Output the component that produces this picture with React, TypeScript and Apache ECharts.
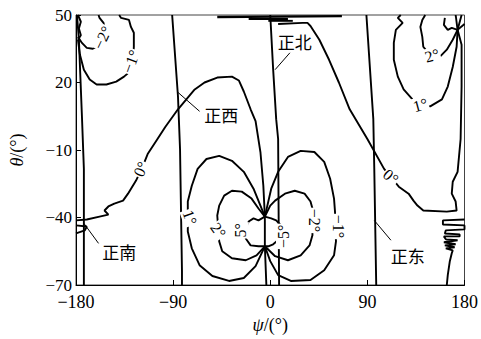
import React, { useEffect, useRef } from "react";
import * as echarts from "echarts";

// axis ranges (degrees)
const psiMin = -180, psiMax = 180, psiStep = 90;
const thetaMin = -70, thetaMax = 50, thetaStep = 30;

// heading lines [psi, theta]
const lineSouth = [[-179.1, 50], [-177.3, 39], [-174.5, 5], [-172.7, -18.4], [-172.7, -70]];
const lineWest = [[-90.9, 50], [-85.5, 13.8], [-83.6, -9.6], [-81.8, -63.8], [-81.8, -70]];
const lineNorth = [[0, 50], [2.7, 25.7], [5.5, 3.7], [7.3, -5.1], [8.2, -70]];
const lineEast = [[89.1, 50], [95.5, 3.7], [96.4, -18.4], [98.2, -70]];

// 0 deg contours
const zeroLeft = [[-180, -41.3], [-170, -40.9], [-158.2, -39.6], [-150, -38.7], [-153.6, -36.9], [-150, -35.1], [-144.5, -33.8], [-136.4, -32.5], [-131.8, -29.4], [-124.5, -23.7], [-119.1, -18.4], [-113.6, -11.8], [-104.5, -5.1], [-97.3, 0.2], [-85.5, 8.1], [-70, 16.9], [-60.9, 20], [-49.1, 22.2], [-35.5, 22.6], [-29.1, 20.9], [-24.5, 16], [-18.2, 8.1], [-13.6, 2.8], [-9.1, -10.9], [-6.4, -25.9], [-5, -39.6], [-5, -52.8], [-3.6, -70]];
const zeroRight = [[7.3, 46], [30, 46.5], [34.5, 46.5], [37.3, 45.1], [45.5, 39], [54.5, 30.1], [63.6, 20], [73.6, 8.1], [90, -5.1], [105.5, -18.4], [111.8, -22], [119.1, -26.3], [128.2, -29.4], [132.7, -32.5], [136.4, -34.7], [141.8, -36.9], [163.6, -37.4], [172.7, -36.9], [171.8, -32.9], [168.2, -29.4], [169.1, -24.1], [173.6, -19.7], [176.4, -5.1], [177.3, 18.2], [177.3, 36.8], [173.6, 43.4]];

// top-right contours (+1, +2)
const posOneTop = [[120.9, 50], [118.2, 48.7], [122.7, 46.5], [116.4, 43.4], [114.5, 37.6], [114.5, 30.1], [118.2, 22.6], [123.6, 16.9], [131.8, 12.5], [139.1, 9.6], [148.2, 9.4], [159.1, 12.5], [164.5, 18.2], [169.1, 26.9], [172.7, 35.9], [173.6, 43.4]];
const posTwoTop = [[143.6, 50], [140.9, 47.8], [139.1, 44.7], [140.9, 40.3], [141.8, 35.9], [145.5, 33.7], [150, 31.9], [157.3, 31.5], [163.6, 34.6], [169.1, 39], [173.6, 43.4]];
const fanTopRightA = [[173.6, 43.4], [171.8, 50]];
const fanTopRightB = [[173.6, 43.4], [177.3, 50]];
const fanTopRightC = [[173.6, 43.4], [180, 46]];
const squiggleTopRight = [[161.8, 48.7], [160.9, 45.6], [164.5, 43.4], [168.2, 44.3], [173.6, 43.4]];

// top-left contours (-1, -2)
const negOneTop = [[-140, 50], [-138.2, 48.7], [-130.9, 47.8], [-129.1, 44.7], [-126.4, 42.1], [-126.4, 35.9], [-127.3, 29.3], [-130, 24.9], [-135.5, 22.6], [-142.7, 20.4], [-151.8, 19.1], [-160.9, 19.1], [-167.3, 21.3], [-172.7, 25.7], [-176.4, 32.4], [-178.2, 39]];
const negTwoTop = [[-159.1, 50], [-158.2, 48.7], [-154.5, 46.5], [-153.6, 44.3], [-154.5, 39.9], [-159.1, 36.3], [-164.5, 35], [-170, 35.4], [-174.5, 37.6], [-178.2, 40.3]];
const squiggleTopLeft = [[-178.2, 50], [-175.5, 47], [-177.3, 44], [-175.5, 41], [-178.2, 39]];

// central lobes
const posOneCenter = [[-5, -39.6], [-9.1, -34.7], [-15.5, -27.2], [-24.5, -19.7], [-35.5, -14.8], [-47.3, -12.6], [-59.1, -14], [-67.3, -18.4], [-72.7, -25.9], [-76.4, -32.9], [-76.4, -46.2], [-72.7, -53.7], [-65.5, -61.2], [-53.6, -66], [-38.2, -68.2], [-24.5, -66.9], [-13.6, -61.6], [-5, -52.8]];
const negOneCenter = [[-5, -39.6], [0.9, -27.2], [7.3, -19.7], [16.4, -13.1], [28.2, -10.4], [40.9, -10.9], [50, -15.3], [55.5, -22.8], [59.1, -31.6], [60, -37.4], [60.9, -50.6], [59.1, -56.8], [50, -63.4], [37.3, -67.8], [19.1, -68.2], [7.3, -65.6], [0, -59.4], [-5, -52.8]];
const posTwoCenter = [[-5, -39.6], [-10.9, -36], [-17.3, -31.6], [-26.4, -28.5], [-35.5, -28.1], [-42.7, -30.3], [-47.3, -34.7], [-49.1, -39.1], [-47.3, -50.6], [-44.5, -55], [-35.5, -58.1], [-22.7, -59], [-12.7, -56.8], [-5, -52.8]];
const negTwoCenter = [[-5, -39.6], [0, -34.7], [4.5, -32.5], [13.6, -29.4], [22.7, -28.1], [31.8, -29.4], [37.3, -32.9], [39.1, -36], [39.1, -47.9], [36.4, -52.4], [28.2, -56.8], [16.4, -59], [4.5, -57.2], [-5, -52.8]];
const posFiveCenter = [[-5, -39.6], [-10.9, -41.3], [-15.5, -40.4], [-20, -41.8], [-22.7, -44.9], [-22.7, -49.3], [-18.2, -52.4], [-10.9, -52.8], [-5, -52.8]];
const negFiveCenter = [[-5, -39.6], [0.9, -40.4], [5.5, -41.3], [9.1, -43.1], [10.9, -46.2], [8.2, -49.7], [2.7, -51.9], [-1.8, -52.8], [-5, -52.8]];

// edge clutter
const loopLeftEdge = [[-180, -43.5], [-170, -44], [-171.8, -45.7], [-180, -47.1]];
const wiggleRight = [[180, -40.9], [160, -41.3], [160, -43.1], [180, -43.5], [180, -45.3], [162.7, -45.7], [161.8, -47.1], [175.5, -47.5], [175.5, -48.4], [160.9, -48.4], [162.7, -49.7], [173.6, -50.1], [160.9, -51], [171.8, -51.9], [161.8, -52.4], [170.9, -53.2], [162.7, -53.7], [169.1, -54.6], [168.2, -55.9], [166.4, -59.4], [164.5, -65.6], [163.6, -70]];
const topBarA = [[-49.1, 49.1], [66.4, 49.5]];
const topBarB = [[-20, 48.2], [16.4, 48.2]];
const topBarC = [[-1.8, 47.4], [20.9, 47.4]];

// contour labels
const contourLabelText = ["−2°", "−1°", "2°", "1°", "0°", "0°", "1°", "2°", "5°", "−5°", "−2°", "−1°"];
const contourLabelPos = [[-155.5, 39.9], [-129.1, 29.3], [150, 32], [139.1, 10], [-120, -18.5], [111.8, -21.9], [-74.5, -40], [-48.2, -45.7], [-27.3, -45.7], [12.7, -48.4], [40.9, -41.3], [63.6, -44]];
const contourLabelRot = [65, 70, 15, 15, 65, -40, -70, -55, 90, 90, -90, -90];

// heading labels and pointers
const headingText = ["正西", "正北", "正南", "正东"];
const headingPos = [[-45.5, 5.9], [22.7, 38.1], [-140, -55], [127.3, -56.8]];
const pointerWest = [[-85.5, 15.6], [-65.5, 7.2]];
const pointerNorth = [[4.5, 25.7], [18.2, 33.2]];
const pointerSouth = [[-172.7, -42.6], [-159.1, -51.5]];
const pointerEast = [[96.4, -41.3], [111.8, -50.1]];

const serif = "'Liberation Serif', 'Times New Roman', serif";

function lineSeries(data: number[][], width = 1.9) {
  return {
    type: "line",
    data,
    showSymbol: false,
    symbol: "none",
    silent: true,
    z: 2,
    lineStyle: { color: "#000", width },
  };
}

export default function App() {
  const ref = useRef<HTMLDivElement>(null);
  useEffect(() => {
    document.body.style.margin = "0";
    if (!ref.current) return;
    const chart = echarts.init(ref.current, null, { renderer: "svg" });
    const fmt = (v: number) => String(v).replace("-", "−");
    const contours = [
      lineSouth, lineWest, lineNorth, lineEast,
      zeroLeft, zeroRight, posOneTop, posTwoTop,
      fanTopRightA, fanTopRightB, fanTopRightC, squiggleTopRight,
      negOneTop, negTwoTop, squiggleTopLeft,
      posOneCenter, negOneCenter, posTwoCenter, negTwoCenter, posFiveCenter, negFiveCenter,
      loopLeftEdge, wiggleRight, topBarB, topBarC,
    ];
    const series: any[] = contours.map((d) => lineSeries(d));
    series.push(lineSeries(topBarA, 2.5));
    [pointerWest, pointerNorth, pointerSouth, pointerEast].forEach((d) => series.push(lineSeries(d, 1)));
    series.push({
      type: "scatter",
      symbolSize: 0,
      silent: true,
      z: 5,
      itemStyle: { opacity: 1 },
      data: contourLabelPos.map((p, i) => ({
        value: p,
        label: { formatter: contourLabelText[i], rotate: contourLabelRot[i] },
      })),
      label: {
        show: true,
        position: "inside",
        fontFamily: serif,
        fontSize: 16,
        color: "#000",
        opacity: 1,
        backgroundColor: "#fff",
        padding: [0, 1],
      },
    });
    series.push({
      type: "scatter",
      symbolSize: 0,
      silent: true,
      z: 5,
      itemStyle: { opacity: 1 },
      data: headingPos.map((p, i) => ({ value: p, label: { formatter: headingText[i] } })),
      label: {
        show: true,
        position: "inside",
        fontFamily: "'Noto Sans CJK SC', sans-serif",
        fontSize: 17,
        color: "#000",
        opacity: 1,
      },
    });
    chart.setOption({
      animation: false,
      backgroundColor: "#fff",
      grid: { left: 69, right: 16, top: 15, bottom: 52, show: true, borderColor: "#444", borderWidth: 1 },
      xAxis: {
        type: "value",
        min: psiMin,
        max: psiMax,
        interval: psiStep,
        name: "{i|ψ}/(°)",
        nameLocation: "middle",
        nameGap: 31,
        nameTextStyle: {
          fontFamily: serif, fontSize: 18, color: "#000",
          rich: { i: { fontFamily: serif, fontSize: 18, fontStyle: "italic", color: "#000" } },
        },
        axisLine: { show: true, onZero: false, lineStyle: { color: "#000", width: 1 } },
        axisTick: { show: true, inside: true, length: 5, lineStyle: { color: "#000" } },
        axisLabel: { formatter: fmt, fontFamily: serif, fontSize: 18, color: "#000", margin: 10, lineHeight: 13 },
        splitLine: { show: false },
      },
      yAxis: {
        type: "value",
        min: thetaMin,
        max: thetaMax,
        interval: thetaStep,
        name: "{i|θ}/(°)",
        nameLocation: "middle",
        nameGap: 50,
        nameRotate: 90,
        nameTextStyle: {
          fontFamily: serif, fontSize: 18, color: "#000",
          rich: { i: { fontFamily: serif, fontSize: 18, fontStyle: "italic", color: "#000" } },
        },
        axisLine: { show: true, onZero: false, lineStyle: { color: "#000", width: 1 } },
        axisTick: { show: true, inside: true, length: 5, lineStyle: { color: "#000" } },
        axisLabel: { formatter: fmt, fontFamily: serif, fontSize: 17, color: "#000", margin: 4, lineHeight: 12 },
        splitLine: { show: false },
      },
      series,
    });
    return () => chart.dispose();
  }, []);
  return <div ref={ref} style={{ width: 481, height: 339 }} />;
}
